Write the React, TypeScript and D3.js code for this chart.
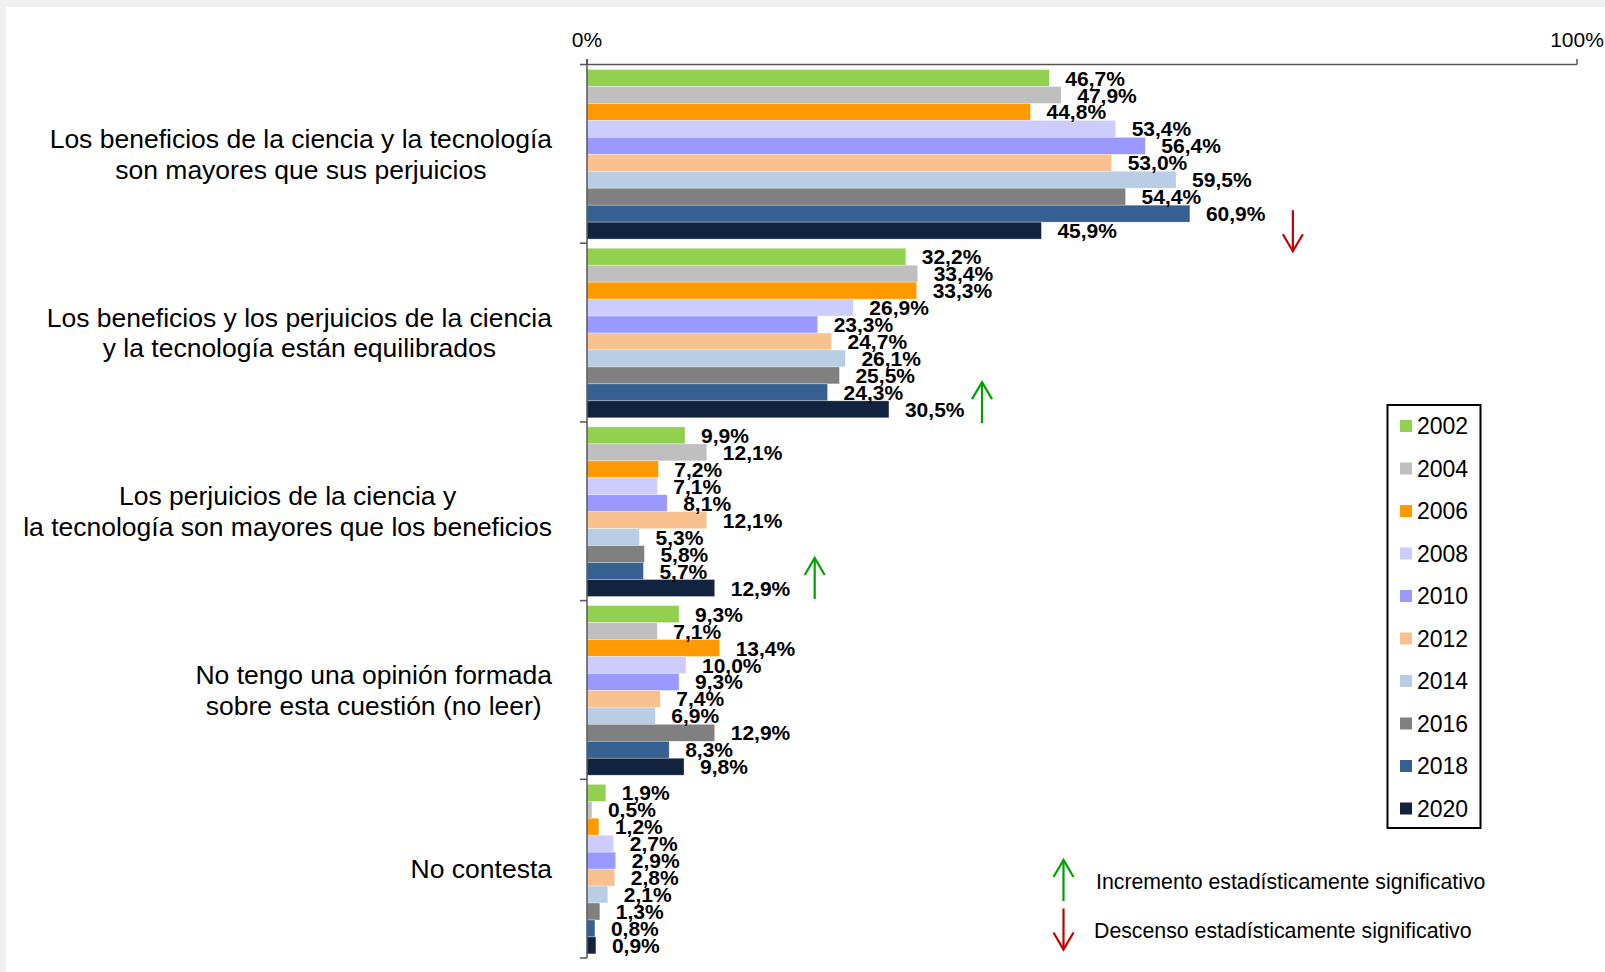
import React from "react";
import * as d3 from "d3";

const categories = [
  ["Los beneficios de la ciencia y la tecnología", "son mayores que sus perjuicios"],
  ["Los beneficios y los perjuicios de la ciencia", "y la tecnología están equilibrados"],
  ["Los perjuicios de la ciencia y", "la tecnología son mayores que los beneficios"],
  ["No tengo una opinión formada", "sobre esta cuestión (no leer)"],
  ["No contesta"],
];
const catKeys = ["c1", "c2", "c3", "c4", "c5"];

const years = ["2002", "2004", "2006", "2008", "2010", "2012", "2014", "2016", "2018", "2020"];
const colors = ["#92d050", "#bfbfbf", "#ff9900", "#ccccff", "#9999ff", "#f9c090", "#b9cde5", "#808080", "#376092", "#12233f"];

const v2002 = [46.7, 32.2, 9.9, 9.3, 1.9];
const v2004 = [47.9, 33.4, 12.1, 7.1, 0.5];
const v2006 = [44.8, 33.3, 7.2, 13.4, 1.2];
const v2008 = [53.4, 26.9, 7.1, 10.0, 2.7];
const v2010 = [56.4, 23.3, 8.1, 9.3, 2.9];
const v2012 = [53.0, 24.7, 12.1, 7.4, 2.8];
const v2014 = [59.5, 26.1, 5.3, 6.9, 2.1];
const v2016 = [54.4, 25.5, 5.8, 12.9, 1.3];
const v2018 = [60.9, 24.3, 5.7, 8.3, 0.8];
const v2020 = [45.9, 30.5, 12.9, 9.8, 0.9];
const series = [v2002, v2004, v2006, v2008, v2010, v2012, v2014, v2016, v2018, v2020];

const xTicks = [0, 100];

// significance arrows: category index, x position (in %), vertical fraction within band, direction
const arrows = [
  { cat: 0, value: 71.3, frac: 0.93, dir: "down" },
  { cat: 1, value: 39.9, frac: 0.892, dir: "up" },
  { cat: 2, value: 23.0, frac: 0.876, dir: "up" },
];

const legendArrows = [
  { dir: "up", text: "Incremento estadísticamente significativo" },
  { dir: "down", text: "Descenso estadísticamente significativo" },
];

const FONT = "'Liberation Sans', Arial, sans-serif";
const GREEN = "#00a000";
const RED = "#c00000";

let ctx: CanvasRenderingContext2D | null = null;
function measure(text: string, size: number) {
  if (!ctx) ctx = document.createElement("canvas").getContext("2d");
  if (!ctx) return text.length * size * 0.5;
  ctx.font = `${size}px ${FONT}`;
  return ctx.measureText(text).width;
}

function Arrow({ cx, cy, dir, len = 41 }: { cx: number; cy: number; dir: string; len?: number }) {
  const top = cy - len / 2;
  const bot = cy + len / 2;
  const color = dir === "up" ? GREEN : RED;
  const head = dir === "up"
    ? `M${cx - 10},${top + 17}L${cx},${top}L${cx + 10},${top + 17}`
    : `M${cx - 10},${bot - 17}L${cx},${bot}L${cx + 10},${bot - 17}`;
  return (
    <g stroke={color} strokeWidth={2.2} fill="none">
      <line x1={cx} x2={cx} y1={top} y2={bot} />
      <path d={head} />
    </g>
  );
}

export default function App() {
  const W = 1605;
  const H = 972;
  const x = d3.scaleLinear().domain([0, 100]).range([587, 1577]);
  const yCat = d3.scaleBand<string>().domain(catKeys).range([64.5, 958]).padding(0);
  const yYear = d3.scaleBand<string>().domain(years).range([0, yCat.bandwidth()]).paddingInner(0).paddingOuter(0.27).align(0.55);
  const fmt = (v: number) => d3.format(".1f")(v).replace(".", ",") + "%";

  const labelSize = 26.5;
  const labelRight = 552;

  return (
    <svg width={W} height={H} style={{ position: "absolute", left: 0, top: 0 }} fontFamily={FONT}>
      <rect x={0} y={0} width={W} height={H} fill="#f0f0f0" />
      <rect x={6} y={7} width={W - 6} height={H - 7} fill="#ffffff" />

      {/* bars */}
      {catKeys.map((ck, ci) => (
        <g key={ck} transform={`translate(0,${yCat(ck)})`}>
          {years.map((yr, yi) => {
            const v = series[yi][ci];
            const y0 = yYear(yr)!;
            return (
              <rect key={yr} x={x(0)} y={y0} width={x(v) - x(0)} height={yYear.bandwidth()} fill={colors[yi]} stroke="#ffffff" strokeOpacity={0.5} strokeWidth={0.6} />
            );
          })}
        </g>
      ))}
      {/* value labels */}
      {catKeys.map((ck, ci) => (
        <g key={ck + "l"} transform={`translate(0,${yCat(ck)})`}>
          {years.map((yr, yi) => {
            const v = series[yi][ci];
            const yc = yYear(yr)! + yYear.bandwidth() / 2;
            return (
              <text key={yr} x={x(v) + 16} y={yc} dy="0.36em" fontSize={21} fontWeight="bold" fill="#000">
                {fmt(v)}
              </text>
            );
          })}
        </g>
      ))}

      {/* axes */}
      <line x1={x(0)} x2={x(100)} y1={64.5} y2={64.5} stroke="#555" strokeWidth={1.5} />
      <line x1={x(0)} x2={x(0)} y1={59} y2={958} stroke="#555" strokeWidth={1.5} />
      {xTicks.map((t) => (
        <g key={t}>
          <line x1={x(t)} x2={x(t)} y1={59} y2={64.5} stroke="#555" strokeWidth={1.5} />
          <text x={x(t)} y={39} dy="0.36em" textAnchor="middle" fontSize={21} fill="#000">
            {t}%
          </text>
        </g>
      ))}
      {[...catKeys.map((k) => yCat(k)!), 958].map((yy, i) => (
        <line key={i} x1={x(0) - 7} x2={x(0)} y1={yy} y2={yy} stroke="#555" strokeWidth={1.5} />
      ))}

      {/* category labels */}
      {categories.map((lines, ci) => {
        const maxW = Math.max(...lines.map((l) => measure(l, labelSize)));
        const cx = labelRight - maxW / 2;
        const cy = yCat(catKeys[ci])! + yCat.bandwidth() / 2;
        const lh = 30.7;
        return (
          <g key={ci}>
            {lines.map((l, li) => (
              <text key={li} x={cx} y={cy + (li - (lines.length - 1) / 2) * lh} dy="0.36em" textAnchor="middle" fontSize={labelSize} fill="#000">
                {l}
              </text>
            ))}
          </g>
        );
      })}

      {/* significance arrows */}
      {arrows.map((a, i) => (
        <Arrow key={i} cx={x(a.value)} cy={yCat(catKeys[a.cat])! + a.frac * yCat.bandwidth()} dir={a.dir} />
      ))}

      {/* year legend */}
      <rect x={1387.5} y={405} width={93} height={423} fill="#fff" stroke="#000" strokeWidth={2} />
      {years.map((yr, i) => {
        const cy = 426 + i * 42.5;
        return (
          <g key={yr}>
            <rect x={1400} y={cy - 6} width={12} height={12} fill={colors[i]} />
            <text x={1417} y={cy} dy="0.36em" fontSize={23} fill="#000">
              {yr}
            </text>
          </g>
        );
      })}

      {/* arrow legend */}
      {legendArrows.map((la, i) => {
        const cy = 880.5 + i * 48.5;
        return (
          <g key={i}>
            <Arrow cx={1063.5} cy={cy} dir={la.dir} />
            <text x={i === 0 ? 1096 : 1094} y={cy + 1} dy="0.36em" fontSize={21.3} fill="#000">
              {la.text}
            </text>
          </g>
        );
      })}
    </svg>
  );
}
